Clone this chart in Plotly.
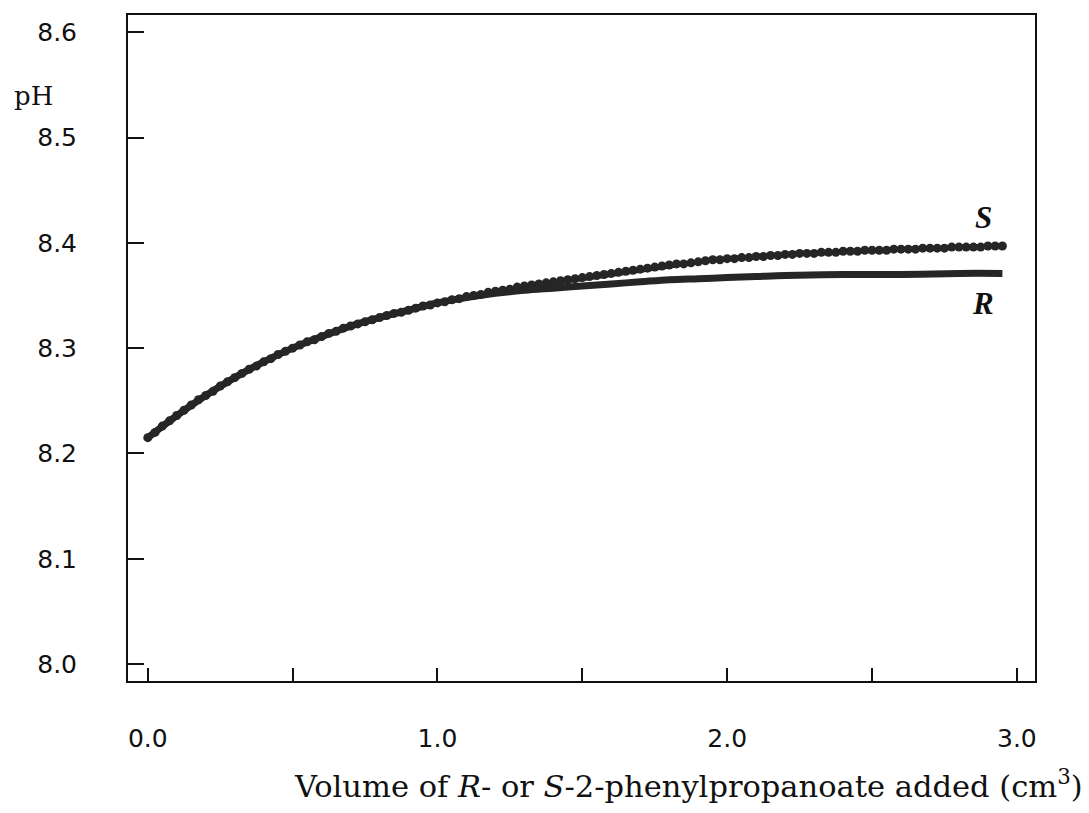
import plotly.graph_objects as go

# ---- data ----
s_volume = [0.000, 0.025, 0.050, 0.075, 0.100, 0.125, 0.150, 0.175, 0.200, 0.225,
            0.250, 0.275, 0.300, 0.325, 0.350, 0.375, 0.400, 0.425, 0.450, 0.475,
            0.500, 0.525, 0.550, 0.575, 0.600, 0.625, 0.650, 0.675, 0.700, 0.725,
            0.750, 0.775, 0.800, 0.825, 0.850, 0.875, 0.900, 0.925, 0.950, 0.975,
            1.000, 1.025, 1.050, 1.075, 1.100, 1.125, 1.150, 1.175, 1.200, 1.225,
            1.250, 1.275, 1.300, 1.325, 1.350, 1.375, 1.400, 1.425, 1.450, 1.475,
            1.500, 1.525, 1.550, 1.575, 1.600, 1.625, 1.650, 1.675, 1.700, 1.725,
            1.750, 1.775, 1.800, 1.825, 1.850, 1.875, 1.900, 1.925, 1.950, 1.975,
            2.000, 2.025, 2.050, 2.075, 2.100, 2.125, 2.150, 2.175, 2.200, 2.225,
            2.250, 2.275, 2.300, 2.325, 2.350, 2.375, 2.400, 2.425, 2.450, 2.475,
            2.500, 2.525, 2.550, 2.575, 2.600, 2.625, 2.650, 2.675, 2.700, 2.725,
            2.750, 2.775, 2.800, 2.825, 2.850, 2.875, 2.900, 2.925, 2.950]
s_ph = [8.215, 8.220, 8.226, 8.231, 8.236, 8.241, 8.246, 8.251, 8.255, 8.259,
        8.264, 8.268, 8.272, 8.276, 8.280, 8.283, 8.287, 8.290, 8.294, 8.297,
        8.300, 8.303, 8.306, 8.308, 8.311, 8.314, 8.316, 8.319, 8.321, 8.323,
        8.325, 8.327, 8.329, 8.331, 8.333, 8.334, 8.336, 8.338, 8.340, 8.341,
        8.343, 8.344, 8.346, 8.347, 8.349, 8.350, 8.351, 8.353, 8.354, 8.355,
        8.356, 8.358, 8.359, 8.360, 8.361, 8.362, 8.363, 8.364, 8.365, 8.366,
        8.367, 8.368, 8.369, 8.370, 8.371, 8.372, 8.373, 8.374, 8.375, 8.376,
        8.377, 8.378, 8.379, 8.380, 8.380, 8.381, 8.382, 8.383, 8.384, 8.384,
        8.385, 8.385, 8.386, 8.386, 8.387, 8.387, 8.388, 8.388, 8.389, 8.389,
        8.390, 8.390, 8.390, 8.391, 8.391, 8.391, 8.392, 8.392, 8.392, 8.393,
        8.393, 8.393, 8.393, 8.394, 8.394, 8.394, 8.394, 8.395, 8.395, 8.395,
        8.395, 8.396, 8.396, 8.396, 8.396, 8.396, 8.397, 8.397, 8.397]

r_volume = [0.0, 0.1, 0.2, 0.3, 0.4, 0.5, 0.6, 0.7, 0.8, 0.9, 1.0, 1.1, 1.2, 1.3,
            1.4, 1.5, 1.6, 1.7, 1.8, 1.9, 2.0, 2.1, 2.2, 2.4, 2.6, 2.8, 2.95]
r_ph = [8.215, 8.236, 8.255, 8.272, 8.287, 8.300, 8.311, 8.321, 8.329, 8.336,
        8.343, 8.348, 8.352, 8.355, 8.357, 8.359, 8.361, 8.363, 8.365, 8.366,
        8.367, 8.368, 8.369, 8.370, 8.370, 8.371, 8.371]

x_tickvals = [0.0, 1.0, 2.0, 3.0]
x_ticktext = ["0.0", "1.0", "2.0", "3.0"]
x_minor_tickvals = [0.5, 1.5, 2.5]
y_tickvals = [8.0, 8.1, 8.2, 8.3, 8.4, 8.5, 8.6]
y_ticktext = ["8.0", "8.1", "8.2", "8.3", "8.4", "8.5", "8.6"]

INK = "#262626"
TEXT = "#111111"

fig = go.Figure()
fig.add_trace(go.Scatter(
    x=r_volume, y=r_ph, mode="lines", name="R",
    line=dict(color=INK, width=7, shape="spline"),
))
fig.add_trace(go.Scatter(
    x=s_volume, y=s_ph, mode="lines+markers", name="S",
    line=dict(color=INK, width=5),
    marker=dict(symbol="circle", size=9, color=INK),
))

tick_font = dict(family="DejaVu Sans", size=25, color=TEXT)
fig.update_layout(
    width=1089, height=813,
    margin=dict(l=128, r=54, t=15, b=132),
    paper_bgcolor="white", plot_bgcolor="white",
    showlegend=False,
    xaxis=dict(
        range=[-0.0683, 3.0625],
        tickvals=x_tickvals, ticktext=x_ticktext,
        ticks="inside", ticklen=13, tickwidth=2, tickcolor="#111111",
        minor=dict(tickvals=x_minor_tickvals, ticks="inside", ticklen=13,
                   tickwidth=2, tickcolor="#111111", showgrid=False),
        showline=True, linecolor="#111111", linewidth=2, mirror=True,
        showgrid=False, zeroline=False,
        tickfont=tick_font, ticklabelstandoff=34,
    ),
    yaxis=dict(
        range=[7.9839, 8.6164],
        tickvals=y_tickvals, ticktext=y_ticktext,
        ticks="inside", ticklen=16, tickwidth=2, tickcolor="#111111",
        showline=True, linecolor="#111111", linewidth=2, mirror=True,
        showgrid=False, zeroline=False,
        tickfont=tick_font, ticklabelstandoff=44,
    ),
    annotations=[
        dict(text="pH", xref="paper", yref="paper", x=-116/907, y=(681-96)/666,
             xanchor="left", yanchor="middle", showarrow=False,
             font=dict(family="DejaVu Serif", size=26, color=TEXT)),
        dict(text="Volume of <i>R</i>- or <i>S</i>-2-phenylpropanoate added (cm<sup>3</sup>)",
             xref="paper", yref="paper", x=(1085-128)/907, y=-(784-681)/666,
             xanchor="right", yanchor="middle", showarrow=False,
             font=dict(family="DejaVu Serif", size=30.5, color=TEXT)),
        dict(text="<b><i>S</i></b>", xref="paper", yref="paper",
             x=(983-128)/907, y=(681-218)/666, xanchor="center", yanchor="middle",
             showarrow=False, font=dict(family="Liberation Serif", size=31, color=TEXT)),
        dict(text="<b><i>R</i></b>", xref="paper", yref="paper",
             x=(983-128)/907, y=(681-303)/666, xanchor="center", yanchor="middle",
             showarrow=False, font=dict(family="Liberation Serif", size=31, color=TEXT)),
    ],
)

fig.write_html("out.html")
